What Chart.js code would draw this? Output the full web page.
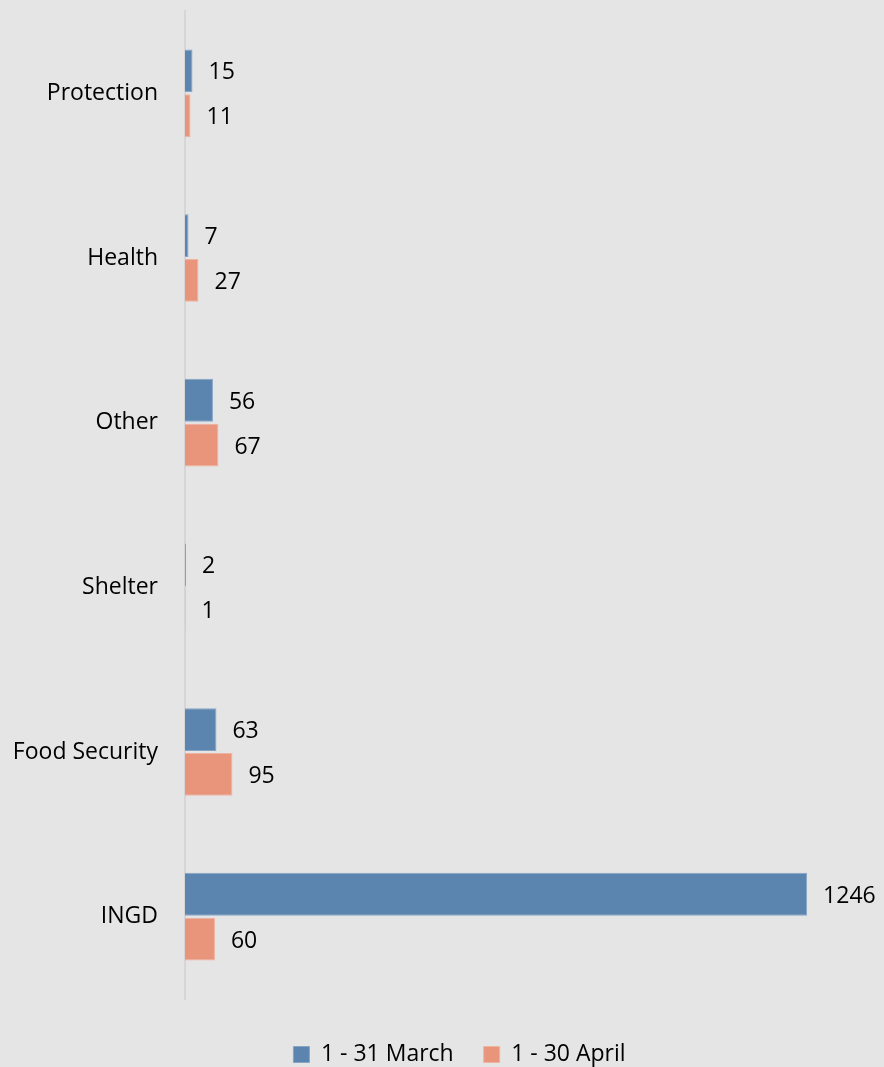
<!DOCTYPE html>
<html>
<head>
<meta charset="utf-8">
<script src="https://cdn.jsdelivr.net/npm/chart.js@4.4.1/dist/chart.umd.min.js"></script>
<style>
    html, body { margin: 0; padding: 0; background: #e5e5e5; }
    #wrap { width: 884px; height: 1067px; position: relative; }
</style>
</head>
<body>
<div id="wrap"><canvas id="sectorChart"></canvas></div>
<script>
    'use strict';

    const categories = ['Protection', 'Health', 'Other', 'Shelter', 'Food Security', 'INGD'];
    const marchValues = [15, 7, 56, 2, 63, 1246];
    const aprilValues = [11, 27, 67, 1, 95, 60];
    const seriesNames = ['1 - 31 March', '1 - 30 April'];

    const FONT = "'Open Sans', sans-serif";
    const FONT_SIZE = 23;
    const LEFT_PAD = 10;

    // Writes each bar's value just past its end
    const valueLabels = {
        id: 'valueLabels',
        afterDatasetsDraw(chart) {
            const ctx = chart.ctx;
            ctx.save();
            ctx.font = FONT_SIZE + 'px ' + FONT;
            ctx.fillStyle = '#000';
            ctx.textBaseline = 'middle';
            ctx.textAlign = 'left';
            chart.data.datasets.forEach((ds, i) => {
                chart.getDatasetMeta(i).data.forEach((bar, j) => {
                    ctx.fillText(String(ds.data[j]), bar.x + 16, bar.y + 2);
                });
            });
            ctx.restore();
        }
    };

    const ctx = document.getElementById('sectorChart').getContext('2d');
    new Chart(ctx, {
        type: 'bar',
        data: {
            labels: categories,
            datasets: [{
                label: seriesNames[0],
                data: marchValues,
                backgroundColor: '#5b84ae',
                borderColor: '#86a5c6',
                borderWidth: 1
            }, {
                label: seriesNames[1],
                data: aprilValues,
                backgroundColor: '#e8957b',
                borderColor: '#f0b3a0',
                borderWidth: 1
            }]
        },
        options: {
            indexAxis: 'y',
            responsive: true,
            maintainAspectRatio: false,
            animation: false,
            datasets: {
                bar: {
                    categoryPercentage: 0.545,
                    barPercentage: 0.955
                }
            },
            // negative right padding nudges the legend a bit right of centre
            layout: {
                padding: { top: 11, right: -25, bottom: -9, left: LEFT_PAD }
            },
            plugins: {
                legend: {
                    position: 'bottom',
                    labels: {
                        font: { family: FONT, size: FONT_SIZE },
                        color: '#000',
                        boxWidth: 16,
                        boxHeight: 16,
                        padding: 30
                    }
                },
                tooltip: { enabled: false }
            },
            scales: {
                x: {
                    // value axis is hidden; it only keeps a gap above the legend
                    display: true,
                    min: 0,
                    max: 1400,
                    grid: { display: false, drawTicks: false },
                    border: { display: false },
                    ticks: { display: false },
                    afterFit(scale) {
                        scale.height = 14;
                    }
                },
                y: {
                    grid: { display: false },
                    border: { display: true, color: '#d6d6d6', width: 2 },
                    ticks: {
                        font: { family: FONT, size: FONT_SIZE },
                        color: '#000',
                        padding: 19
                    },
                    // fixed axis column; no extra room above/below the labels
                    afterFit(scale) {
                        scale.width = 185 - LEFT_PAD;
                        scale.paddingTop = 0;
                        scale.paddingBottom = 0;
                    }
                }
            }
        },
        plugins: [valueLabels]
    });
</script>
</body>
</html>
